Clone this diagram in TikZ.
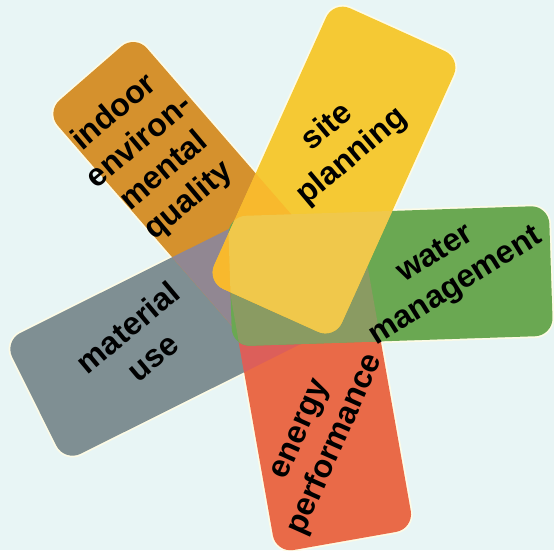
\documentclass[tikz,border=0pt]{standalone}
\usepackage{fontspec}
\setmainfont{Liberation Sans}
\definecolor{bgc}{HTML}{E8F5F5}
\definecolor{cream}{HTML}{FDFBE6}
\definecolor{cOr}{HTML}{D5912D}
\definecolor{cYe}{HTML}{F5C934}
\definecolor{cGr}{HTML}{6AA852}
\definecolor{cGy}{HTML}{7F8F93}
\definecolor{cRe}{HTML}{E96A48}
\definecolor{cPu}{HTML}{918792}
\definecolor{cOl}{HTML}{8A9B62}
\definecolor{cPk}{HTML}{DC5F5A}
\definecolor{cYO}{HTML}{F8B92D}
\definecolor{cYG}{HTML}{F0C84B}
\begin{document}
\begin{tikzpicture}[x=1pt,y=-1pt,
  outl/.style={draw=cream,line width=3.5pt},
  lab/.style={font=\bfseries\fontsize{32}{38.5}\selectfont,align=center,text=black,inner sep=0pt},
  rO/.style={shift={(192.2,190.3)},rotate=-49,rounded corners=18pt},
  rY/.style={shift={(334,170)},rotate=65.7,rounded corners=18pt},
  rG/.style={shift={(390.5,276)},rotate=1.9,rounded corners=18pt},
  rS/.style={shift={(164.1,336.7)},rotate=26.5,rounded corners=18pt},
  rR/.style={shift={(318.9,393.2)},rotate=100,rounded corners=18pt}]
\useasboundingbox (0,0) rectangle (554,550);
\fill[bgc] (0,0) rectangle (554,550);
% cream outlines (under all fills)
\draw[outl,rO] (-155,-59) rectangle (155,59);
\draw[outl,rY] (-154,-70) rectangle (154,70);
\draw[outl,rG] (-160.5,-65) rectangle (160.5,65);
\draw[outl,rS] (-145,-67.5) rectangle (145,67.5);
\draw[outl,rR] (-150,-70) rectangle (150,70);
% gray and orange
\fill[cGy,rS] (-145,-67.5) rectangle (145,67.5);
\fill[cOr,rO] (-155,-59) rectangle (155,59);
\begin{scope}
  \clip[rS] (-145,-67.5) rectangle (145,67.5);
  \fill[cPu,rO] (-155,-59) rectangle (155,59);
\end{scope}
% red
\fill[cRe,rR] (-150,-70) rectangle (150,70);
\begin{scope}
  \clip[rS] (-145,-67.5) rectangle (145,67.5);
  \fill[cPk,rR] (-150,-70) rectangle (150,70);
\end{scope}
% green
\fill[cGr,rG] (-160.5,-65) rectangle (160.5,65);
\begin{scope}
  \clip[rR] (-150,-70) rectangle (150,70);
  \fill[cOl,rG] (-160.5,-65) rectangle (160.5,65);
\end{scope}
% yellow
\fill[cYe,rY] (-154,-70) rectangle (154,70);
\begin{scope}
  \clip[rO] (-155,-59) rectangle (155,59);
  \fill[cYO,rY] (-154,-70) rectangle (154,70);
\end{scope}
\begin{scope}
  \clip[rG] (-160.5,-65) rectangle (160.5,65);
  \fill[cYG,rY] (-154,-70) rectangle (154,70);
\end{scope}
% labels
\node[lab,rotate=40] (tO) at (152,157) {indoor\\environ-\\mental\\quality};
\node[lab,rotate=40] (tY) at (340,142) {site\\planning};
\node[lab,rotate=32] (tG) at (446,271) {water\\management};
\node[lab,rotate=40] (tS) at (140,342) {material\\use};
\node[lab,rotate=66] (tR) at (320,438) {energy\\performance};
\end{tikzpicture}
\end{document}
